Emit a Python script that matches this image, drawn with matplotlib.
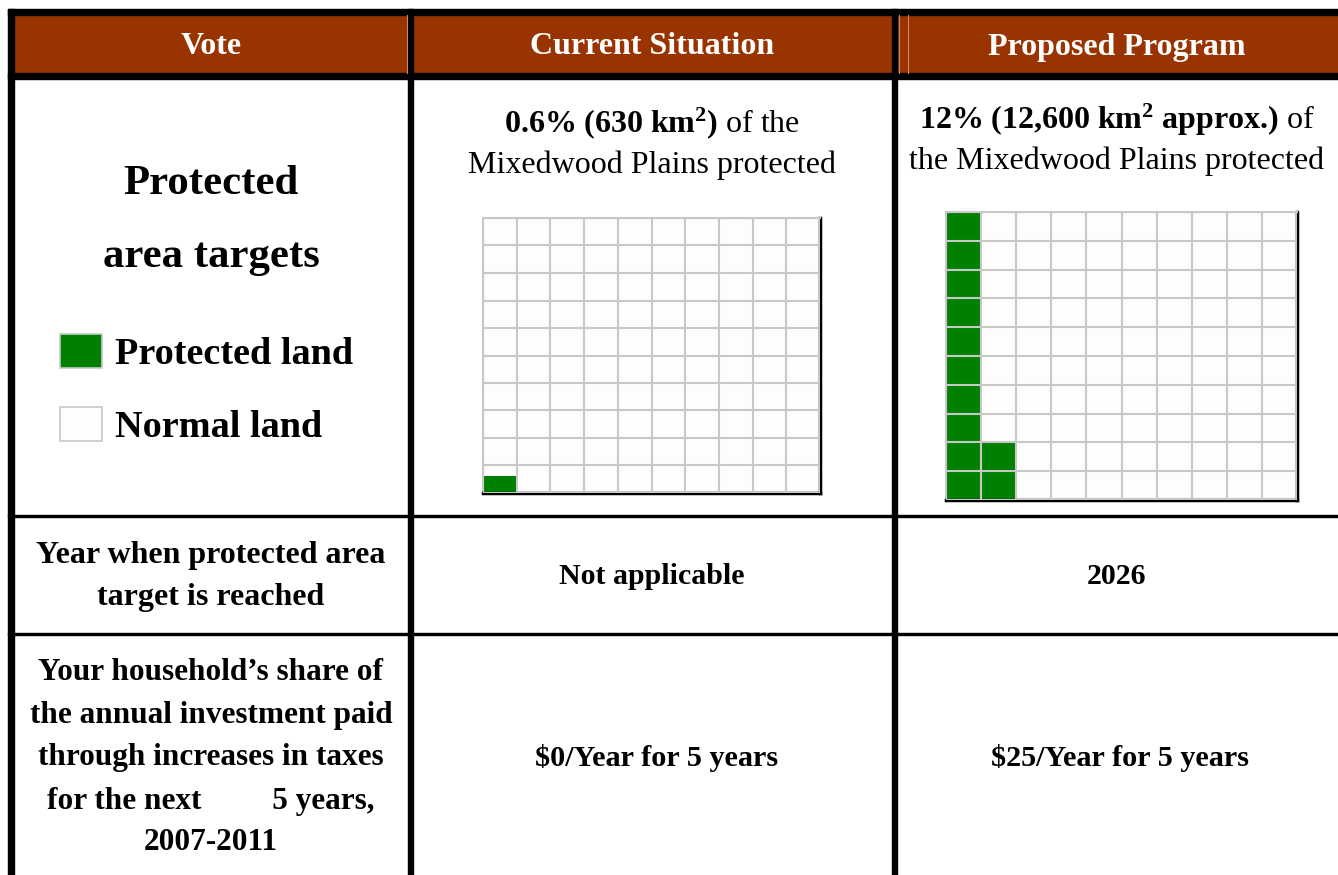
import numpy as np
import matplotlib.pyplot as plt
from matplotlib.patches import Rectangle, Patch

plt.rcParams['font.family'] = ['Liberation Serif', 'DejaVu Serif']
plt.rcParams['mathtext.fontset'] = 'custom'
plt.rcParams['mathtext.rm'] = 'Liberation Serif'
plt.rcParams['mathtext.bf'] = 'Liberation Serif:bold'
plt.rcParams['mathtext.it'] = 'Liberation Serif:italic'

# Textos da tabela
headers = ["Vote", "Current Situation", "Proposed Program"]
target_lines = ["Protected", "area targets"]
legend_labels = ["Protected land", "Normal land"]
year_lines = ["Year when protected area", "target is reached"]
cost_lines = ["Your household\u2019s share of",
              "the annual investment paid",
              "through increases in taxes",
              "for the next         5 years,",
              "2007-2011"]

# Dados das duas opcoes (atual / proposta)
pct_protected = [0.6, 12.0]
area_lines = [[r"$\mathbf{0.6\%\ (630\ km^2)}$ of the",
               "Mixedwood Plains protected"],
              [r"$\mathbf{12\%\ (12{,}600\ km^2\ approx.\!)}$ of",
               "the Mixedwood Plains protected"]]
target_years = ["Not applicable", "2026"]
annual_costs = [r"\$0/Year for 5 years", r"\$25/Year for 5 years"]

# Cores
cor_cab = '#993300'
cor_verde = '#008000'
cor_grade = '#c8c8c8'

W, H = 1338, 875
fig = plt.figure(figsize=(W / 100, H / 100), dpi=100)
ax = fig.add_axes([0, 0, 1, 1])
ax.set_xlim(0, W)
ax.set_ylim(H, 0)
ax.axis('off')

# estrutura da tabela (em pixels)
ax.add_patch(Rectangle((14, 15), W - 14, 58, color=cor_cab))
ax.add_patch(Rectangle((8, 9), W - 8, 6, color='black'))
ax.add_patch(Rectangle((8, 73), W - 8, 6, color='black'))
for x0, larg in [(8, 6), (408, 5), (892, 5)]:
    ax.add_patch(Rectangle((x0, 9), larg, H - 9, color='black'))
for y0 in [514.5, 632.5]:
    ax.add_patch(Rectangle((8, y0), W - 8, 2.3, color='black'))
for xl in [406.5, 898.5, 908]:
    ax.plot([xl, xl], [15, 73], color='#c98a6a', lw=0.8)

centros = [211, 652, 1117]

# cabecalho
for cx, h in zip(centros, headers):
    ax.text(cx, 47, h, color='white', fontsize=23, fontweight='bold',
            ha='center', va='center')

# linha 1 - coluna da esquerda
for y, t in zip([184, 257], target_lines):
    ax.text(211, y, t, fontsize=30.8, fontweight='bold', ha='center', va='center')

handles = [Patch(facecolor=cor_verde, edgecolor=cor_grade, lw=1.2),
           Patch(facecolor='#fdfdfd', edgecolor=cor_grade, lw=1.2)]
leg = ax.legend(handles, legend_labels, loc='upper left',
                bbox_to_anchor=(60, 334), bbox_transform=ax.transData,
                frameon=False, borderpad=0, borderaxespad=0,
                handlelength=1.1, handleheight=0.98, handletextpad=0.35,
                labelspacing=0.93, prop={'size': 27.5, 'weight': 'bold'})

# linha 1 - textos de area
for cx, linhas, ys in zip(centros[1:], area_lines, [[123, 165], [120, 161]]):
    for y, t in zip(ys, linhas):
        ax.text(cx, y, t, fontsize=23, ha='center', va='center')


def alturas_colunas(pct):
    # cada celula = 1%, preenchida por coluna de baixo para cima
    return np.clip(pct - 10 * np.arange(10), 0, 10)


def desenha_grade(ret, pct):
    g = fig.add_axes(ret)
    g.set_facecolor('#fdfdfd')
    g.bar(np.arange(10), alturas_colunas(pct), width=1, align='edge',
          color=cor_verde, zorder=1)
    g.set_xlim(0, 10)
    g.set_ylim(0, 10)
    g.set_xticks(range(11))
    g.set_yticks(range(11))
    g.grid(True, color=cor_grade, lw=1.5)
    g.set_axisbelow(False)
    g.tick_params(length=0, labelbottom=False, labelleft=False)
    for s in ['left', 'top']:
        g.spines[s].set_color(cor_grade)
        g.spines[s].set_linewidth(1.5)
    for s in ['right', 'bottom']:
        g.spines[s].set_color('black')
        g.spines[s].set_linewidth(2.5)


# posicoes das grades em pixels (x0, y0, x1, y1)
grades = [(483, 218, 820, 493), (946, 212, 1297, 500)]
for (x0, y0, x1, y1), pct in zip(grades, pct_protected):
    desenha_grade([x0 / W, 1 - y1 / H, (x1 - x0) / W, (y1 - y0) / H], pct)

# linha 2
for y, t in zip([556, 598], year_lines):
    ax.text(211, y, t, fontsize=23, fontweight='bold', ha='center', va='center')
for cx, t in zip(centros[1:], target_years):
    ax.text(cx, 577, t, fontsize=21.5, fontweight='bold', ha='center', va='center')

# linha 3
for y, t in zip([673, 715, 758, 801, 843], cost_lines):
    ax.text(211, y, t, fontsize=22.5, fontweight='bold', ha='center', va='center')
for cx, t in zip([657, 1120], annual_costs):
    ax.text(cx, 758, t, fontsize=21.8, fontweight='bold', ha='center', va='center')

plt.savefig('out.png', dpi=100)
